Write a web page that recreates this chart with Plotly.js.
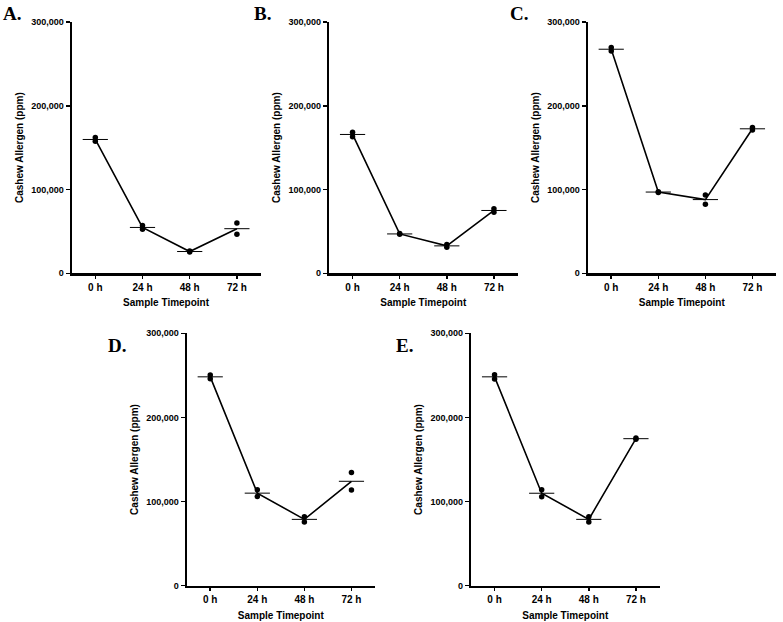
<!DOCTYPE html>
<html>
<head>
<meta charset="utf-8">
<script src="https://cdn.plot.ly/plotly-3.0.1.min.js"></script>
<style>html,body{margin:0;padding:0;background:#fff;}#chart{width:783px;height:622px;}</style>
</head>
<body>
<div id="chart"></div>
<script>
// Data
const timepoints = ['0 h', '24 h', '48 h', '72 h'];
const panelLabels = ['A.', 'B.', 'C.', 'D.', 'E.'];
const A_rep1 = [162000, 57000, 26500, 60000];
const A_rep2 = [157500, 52500, 25500, 46500];
const B_rep1 = [168500, 47500, 34500, 77000];
const B_rep2 = [163000, 46500, 31000, 73000];
const C_rep1 = [269500, 97500, 93500, 174000];
const C_rep2 = [265500, 96500, 82500, 171000];
const D_rep1 = [250500, 114000, 82000, 134500];
const D_rep2 = [246000, 106000, 75700, 113700];
const E_rep1 = [250800, 114000, 82000, 175500];
const E_rep2 = [245700, 105800, 75700, 174000];
const yTicks = [0, 100000, 200000, 300000];

const panels = [[A_rep1, A_rep2], [B_rep1, B_rep2], [C_rep1, C_rep2], [D_rep1, D_rep2], [E_rep1, E_rep2]];

const W = 783, H = 622;
// pixel boxes of each plot area: [left, right, top, bottom]
const boxes = [
  [71.7, 260.5, 22, 273.3],
  [329, 517.5, 22, 273.3],
  [587.7, 776, 22, 273.3],
  [186.7, 375, 333.3, 585.7],
  [471, 659.5, 333.3, 585.7]
];
const labelPos = [[12, 14], [262, 13], [519, 13], [117, 345], [404, 345]];

const font = {family: 'Liberation Sans, Arial, sans-serif', color: '#000'};
const traces = [];
const layout = {
  width: W, height: H,
  margin: {l: 0, r: 0, t: 0, b: 0},
  paper_bgcolor: '#fff', plot_bgcolor: '#fff',
  showlegend: false,
  annotations: []
};

panels.forEach((reps, i) => {
  const n = i === 0 ? '' : String(i + 1);
  const xa = 'x' + n, ya = 'y' + n;
  const means = reps[0].map((v, k) => (reps[0][k] + reps[1][k]) / 2);
  reps.forEach(r => {
    traces.push({
      type: 'scatter', mode: 'markers', x: timepoints, y: r, xaxis: xa, yaxis: ya,
      marker: {symbol: 'circle', size: 5.5, color: '#000'}, cliponaxis: false, hoverinfo: 'skip'
    });
  });
  traces.push({
    type: 'scatter', mode: 'lines+markers', x: timepoints, y: means, xaxis: xa, yaxis: ya,
    line: {color: '#000', width: 1.6},
    marker: {symbol: 'line-ew', size: 18, color: '#000', line: {color: '#000', width: 1}},
    cliponaxis: false, hoverinfo: 'skip'
  });
  const b = boxes[i];
  layout['xaxis' + n] = {
    domain: [b[0] / W, b[1] / W],
    anchor: ya,
    type: 'category',
    range: [-0.5, 3.5],
    showgrid: false, zeroline: false,
    showline: true, linecolor: '#000', linewidth: 2.2,
    ticks: 'outside', ticklen: 3, tickwidth: 1.5, tickcolor: '#000',
    tickfont: Object.assign({size: 10, weight: 'bold'}, font),
    title: {text: 'Sample Timepoint', font: Object.assign({size: 10, weight: 'bold'}, font), standoff: 8},
    fixedrange: true
  };
  layout['yaxis' + n] = {
    domain: [1 - b[3] / H, 1 - b[2] / H],
    anchor: xa,
    range: [0, 300000],
    tickvals: yTicks,
    tickformat: ',d',
    showgrid: false, zeroline: false,
    showline: true, linecolor: '#000', linewidth: 2.2,
    ticks: 'outside', ticklen: 4, tickwidth: 1.5, tickcolor: '#000',
    tickfont: Object.assign({size: 9, weight: 'bold'}, font),
    title: {text: 'Cashew Allergen (ppm)', font: Object.assign({size: 10, weight: 'bold'}, font), standoff: 6},
    fixedrange: true
  };
  layout.annotations.push({
    text: panelLabels[i], xref: 'paper', yref: 'paper',
    x: labelPos[i][0] / W, y: 1 - labelPos[i][1] / H,
    xanchor: 'center', yanchor: 'middle', showarrow: false,
    font: {family: 'Liberation Serif, Times New Roman, serif', size: 19, weight: 'bold', color: '#000'}
  });
});

Plotly.newPlot('chart', traces, layout, {staticPlot: true, displayModeBar: false});
</script>
</body>
</html>
